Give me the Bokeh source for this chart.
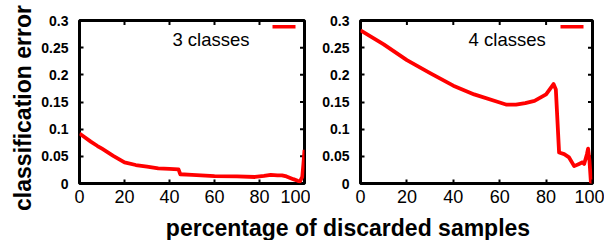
import math
from bokeh.plotting import figure
from bokeh.models import FixedTicker, Range1d, BoxAnnotation, Label
from bokeh.layouts import column, row
from bokeh.embed import file_html
from bokeh.resources import INLINE

# ---------------- data ----------------
x_ticks = [0, 20, 40, 60, 80, 100]
x_tick_labels = ["0", "20", "40", "60", "80", "100"]
y_ticks = [0, 0.05, 0.1, 0.15, 0.2, 0.25, 0.3]
y_tick_labels = ["0", "0.05", "0.1", "0.15", "0.2", "0.25", "0.3"]

x_3 = [0, 2, 5, 8, 10, 15, 20, 25, 30, 35, 40, 44, 44.8, 50, 60, 70, 78, 82, 85, 88,
       90, 92, 95, 97, 98, 99, 99.5, 100]
err_3 = [0.092, 0.086, 0.077, 0.069, 0.064, 0.051, 0.039, 0.034, 0.031, 0.028, 0.027,
         0.026, 0.017, 0.016, 0.0135, 0.013, 0.012, 0.014, 0.016, 0.015, 0.015, 0.013,
         0.008, 0.005, 0.004, 0.012, 0.035, 0.062]

x_4 = [0, 10, 20, 30, 40, 49, 60, 63, 67, 71, 75, 80, 83.2, 84.2, 85.6, 87.8, 89.9,
       92.1, 94.2, 95.7, 96.4, 97.6, 98.1, 98.7, 99.3, 100]
err_4 = [0.282, 0.256, 0.227, 0.203, 0.180, 0.164, 0.149, 0.145, 0.145, 0.148, 0.152,
         0.164, 0.183, 0.173, 0.057, 0.054, 0.048, 0.032, 0.036, 0.039, 0.036, 0.054,
         0.064, 0.042, 0.003, 0.0]

series_names = ["3 classes", "4 classes"]
y_title = "classification error"
x_title = "percentage of discarded samples"

FONT = "Liberation Sans"
RED = "#ff0000"
FRAME_H = 163


def make_panel(xs, ys, name, left_border, frame_w, right_border, label_x):
    p = figure(frame_width=frame_w, frame_height=FRAME_H, output_backend="svg",
               toolbar_location=None, x_range=Range1d(x_ticks[0], x_ticks[-1]),
               y_range=Range1d(y_ticks[0], y_ticks[-1]),
               min_border_left=left_border, min_border_right=right_border,
               min_border_top=20, min_border_bottom=27, background_fill_color="white",
               border_fill_color="white")
    p.grid.visible = False
    p.outline_line_color = "black"
    p.outline_line_width = 3

    xa = p.below[0]
    xa.ticker = FixedTicker(ticks=x_ticks)
    xa.major_label_overrides = dict(zip(x_ticks, x_tick_labels))
    xa.major_label_text_font = FONT
    xa.major_label_text_font_size = "18px"
    xa.major_label_text_color = "black"
    xa.major_label_standoff = 6
    xa.axis_line_color = None
    xa.major_tick_in = 4
    xa.major_tick_out = 0
    xa.major_tick_line_width = 2
    xa.minor_tick_line_color = None

    ya = p.left[0]
    ya.ticker = FixedTicker(ticks=y_ticks)
    ya.major_label_overrides = dict(zip(y_ticks, y_tick_labels))
    ya.major_label_text_font = FONT
    ya.major_label_text_font_style = "bold"
    ya.major_label_text_font_size = "14px"
    ya.major_label_text_color = "black"
    ya.major_label_standoff = 11
    ya.axis_line_color = None
    ya.major_tick_in = 4
    ya.major_tick_out = 0
    ya.major_tick_line_width = 2
    ya.minor_tick_line_color = None

    # mirrored tick marks on top and right borders (gnuplot style)
    p.scatter(x=x_ticks, y=[y_ticks[-1]] * len(x_ticks), marker="dash", angle=math.pi / 2,
              size=9, line_color="black", line_width=2)
    p.scatter(x=[x_ticks[-1]] * len(y_ticks), y=y_ticks, marker="dash",
              size=9, line_color="black", line_width=2)

    p.line(xs, ys, line_color=RED, line_width=3.8, line_join="round")

    # legend swatch at the top right corner of the frame
    p.add_layout(BoxAnnotation(left=frame_w - 32, right=frame_w - 9,
                               top=FRAME_H - 4.5, bottom=FRAME_H - 8,
                               left_units="screen", right_units="screen",
                               top_units="screen", bottom_units="screen",
                               fill_color=RED, fill_alpha=1, line_color=None))

    p.add_layout(Label(x=label_x, y=0.265, text=name, text_font=FONT,
                       text_font_size="18.5px", text_baseline="middle", text_align="left",
                       text_color="black", background_fill_color="white"))
    return p


YW = 37
p1 = make_panel(x_3, err_3, series_names[0], 79 - YW, 225, 6, 41.3)
p2 = make_panel(x_4, err_4, series_names[1], 50, 232, 12, 46.6)

py = figure(width=YW, height=240, output_backend="svg", toolbar_location=None,
            x_range=Range1d(0, 1), y_range=Range1d(0, 1), min_border=0)
py.axis.visible = False
py.grid.visible = False
py.outline_line_color = None
py.add_layout(Label(x=0.595, y=0.552, text=y_title, text_font=FONT, text_font_style="bold",
                    text_font_size="23px", text_align="center", text_baseline="middle",
                    angle=math.pi / 2, text_color="black"))

pt = figure(width=604 - YW, height=30, output_backend="svg", toolbar_location=None,
            x_range=Range1d(0, 1), y_range=Range1d(0, 1), min_border=0)
pt.axis.visible = False
pt.grid.visible = False
pt.outline_line_color = None
pt.add_layout(Label(x=0.5476, y=0.433, text=x_title, text_font=FONT, text_font_style="bold",
                    text_font_size="23px", text_align="center", text_baseline="middle",
                    text_color="black"))

layout = row(py, column(row(p1, p2), pt))
open("out.html", "w").write(file_html(layout, INLINE))
